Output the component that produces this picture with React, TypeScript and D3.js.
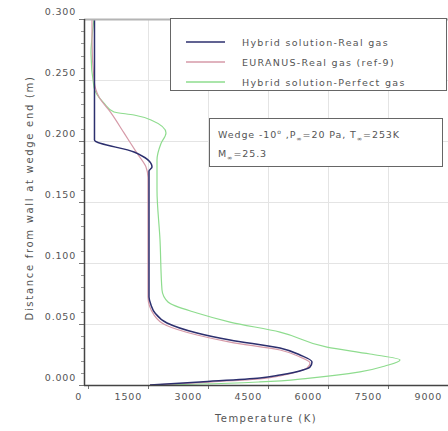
import React, { useEffect, useRef } from 'react'
import * as d3 from 'd3'

// temperature (K) vs distance from wall (m)
const hybridRealT = [162, 162, 1150, 1600, 1525, 1525, 1575, 1675, 1975, 2725, 3550, 4800, 5300, 5600, 5550, 5375, 4800, 4300, 2800, 1550]
const hybridRealY = [0.300, 0.2008, 0.191, 0.1787, 0.1754, 0.0721, 0.0656, 0.059, 0.0508, 0.0426, 0.0369, 0.0303, 0.0246, 0.0189, 0.0148, 0.0123, 0.0082, 0.0057, 0.0025, 0]

const euranusT = [100, 100, 150, 275, 575, 900, 1225, 1450, 1500, 1500, 1650, 1950, 2725, 3550, 4800, 5300, 5550, 5475, 5300, 4800, 4300, 2800, 1550]
const euranusY = [0.300, 0.283, 0.25, 0.236, 0.223, 0.2066, 0.19, 0.1787, 0.17, 0.0721, 0.0574, 0.049, 0.041, 0.0352, 0.0287, 0.023, 0.018, 0.0139, 0.0115, 0.0074, 0.0049, 0.002, 0]

const perfectT = [150, 100, 75, 150, 400, 650, 1150, 1575, 1950, 1825, 1725, 1725, 1800, 1850, 2000, 2725, 3550, 4800, 5975, 7050, 7800, 7425, 6800, 5550, 4300, 2800, 1675]
const perfectY = [0.300, 0.285, 0.272, 0.244, 0.231, 0.2238, 0.2213, 0.2172, 0.2066, 0.198, 0.1844, 0.16, 0.119, 0.0779, 0.068, 0.059, 0.0516, 0.0434, 0.0311, 0.0254, 0.0205, 0.0156, 0.0107, 0.0057, 0.0025, 0.0008, 0]

const xTicks = [0, 1500, 3000, 4500, 6000, 7500, 9000]
const yTicks = [0, 0.05, 0.1, 0.15, 0.2, 0.25, 0.3]
const seriesNames = ['Hybrid solution-Real gas', 'EURANUS-Real gas (ref-9)', 'Hybrid solution-Perfect gas']
const seriesColors = ['#2c2f6e', '#d69aa8', '#8edc8e']

const font = '"DejaVu Sans", sans-serif'
const textColor = '#555'

function App() {
  const ref = useRef<SVGSVGElement>(null)

  useEffect(() => {
    const svg = d3.select(ref.current)
    svg.selectAll('*').remove()

    const x = d3.scaleLinear().domain([-100, 9000]).range([84, 448])
    const y = d3.scaleLinear().domain([0, 0.3]).range([385, 19])
    const [x0, x1] = x.range()
    const [yb, yt] = y.range()

    svg.append('rect').attr('width', 448).attr('height', 431).attr('fill', '#fff')

    svg.append('clipPath').attr('id', 'plot')
      .append('rect').attr('x', x0).attr('y', yt).attr('width', x1 - x0).attr('height', yb - yt)

    // grid
    const grid = svg.append('g').attr('stroke', '#e4e4e4').attr('stroke-width', 1)
    grid.selectAll('.gx').data(xTicks.filter(d => d > 0)).enter().append('line')
      .attr('x1', d => Math.round(x(d)) + 0.5).attr('x2', d => Math.round(x(d)) + 0.5)
      .attr('y1', yt).attr('y2', yb)
    grid.selectAll('.gy').data(yTicks.filter(d => d > 0 && d < 0.3)).enter().append('line')
      .attr('y1', d => Math.round(y(d)) + 0.5).attr('y2', d => Math.round(y(d)) + 0.5)
      .attr('x1', x0).attr('x2', x1)

    // minor ticks
    const minorY = d3.range(0, 0.3001, 0.01)
    svg.append('g').attr('stroke', '#999').selectAll('line').data(minorY).enter().append('line')
      .attr('x1', x0 - 3).attr('x2', x0)
      .attr('y1', d => Math.round(y(d)) + 0.5).attr('y2', d => Math.round(y(d)) + 0.5)
    svg.append('g').attr('stroke', '#777').selectAll('line').data(yTicks).enter().append('line')
      .attr('x1', x0 - 5).attr('x2', x0)
      .attr('y1', d => Math.round(y(d)) + 0.5).attr('y2', d => Math.round(y(d)) + 0.5)
    svg.append('g').attr('stroke', '#777').selectAll('line').data(xTicks).enter().append('line')
      .attr('x1', d => Math.round(x(d)) + 0.5).attr('x2', d => Math.round(x(d)) + 0.5)
      .attr('y1', yb).attr('y2', yb + 4)

    // curves: each profile is single-valued in distance, so interpolate along y
    const line = d3.line<[number, number]>()
      .x(d => x(d[0])).y(d => y(d[1]))
      .curve(d3.curveMonotoneY)
    const series = [
      d3.zip(perfectT, perfectY).reverse(),
      d3.zip(euranusT, euranusY).reverse(),
      d3.zip(hybridRealT, hybridRealY).reverse(),
    ]
    const colors = [seriesColors[2], seriesColors[1], seriesColors[0]]
    const widths = [1.2, 1.2, 1.5]
    const curves = svg.append('g').attr('clip-path', 'url(#plot)')
    series.forEach((s, i) => {
      curves.append('path')
        .attr('d', line(s as [number, number][]))
        .attr('fill', 'none')
        .attr('stroke', colors[i])
        .attr('stroke-width', widths[i])
    })

    // frame
    svg.append('line').attr('x1', x0).attr('x2', x1).attr('y1', yt + 0.5).attr('y2', yt + 0.5)
      .attr('stroke', '#b4b4b4').attr('stroke-width', 2)
    svg.append('line').attr('x1', x0 + 0.5).attr('x2', x0 + 0.5).attr('y1', yt).attr('y2', yb + 0.5)
      .attr('stroke', '#444').attr('stroke-width', 1.5)
    svg.append('line').attr('x1', x0).attr('x2', x1).attr('y1', yb + 0.5).attr('y2', yb + 0.5)
      .attr('stroke', '#444').attr('stroke-width', 1.5)

    // tick labels
    svg.append('g').selectAll('text').data(yTicks).enter().append('text')
      .attr('x', 76).attr('y', d => y(d) - 4)
      .attr('text-anchor', 'end')
      .attr('font-family', font).attr('font-size', 9.5).attr('letter-spacing', 0.8)
      .attr('fill', textColor)
      .text(d => d3.format('.3f')(d))
    svg.append('g').selectAll('text').data(xTicks).enter().append('text')
      .attr('x', d => x(d) - 6).attr('y', 400)
      .attr('text-anchor', 'end')
      .attr('font-family', font).attr('font-size', 9.5).attr('letter-spacing', 0.8)
      .attr('fill', textColor)
      .text(d => String(d))

    // axis titles
    svg.append('text')
      .attr('x', 266).attr('y', 422)
      .attr('text-anchor', 'middle')
      .attr('font-family', font).attr('font-size', 10).attr('letter-spacing', 1.4)
      .attr('fill', textColor)
      .text('Temperature (K)')
    svg.append('text')
      .attr('transform', 'translate(33,198) rotate(-90)')
      .attr('text-anchor', 'middle')
      .attr('font-family', font).attr('font-size', 10).attr('letter-spacing', 1.7)
      .attr('fill', textColor)
      .text('Distance from wall at wedge end (m)')

    // legend
    const legend = svg.append('g')
    legend.append('rect').attr('x', 170.5).attr('y', 18.5).attr('width', 276).attr('height', 72)
      .attr('fill', '#fff').attr('stroke', '#666').attr('stroke-width', 1)
    seriesNames.forEach((name, i) => {
      const ly = 42 + i * 20
      legend.append('line').attr('x1', 186).attr('x2', 225).attr('y1', ly).attr('y2', ly)
        .attr('stroke', seriesColors[i]).attr('stroke-width', 1.6)
      legend.append('text').attr('x', 242).attr('y', ly + 3.5)
        .attr('font-family', font).attr('font-size', 9.5).attr('letter-spacing', 1.3)
        .attr('fill', textColor)
        .text(name)
    })

    // condition box
    const note = svg.append('g')
    note.append('rect').attr('x', 209.5).attr('y', 118.5).attr('width', 233).attr('height', 48)
      .attr('fill', '#fff').attr('stroke', '#666').attr('stroke-width', 1)
    const t1 = note.append('text').attr('x', 218).attr('y', 138)
      .attr('font-family', font).attr('font-size', 9.5).attr('letter-spacing', 0.9)
      .attr('fill', textColor)
    t1.append('tspan').text('Wedge -10')
    t1.append('tspan').attr('dy', -4).attr('font-size', 6).text('o')
    t1.append('tspan').attr('dy', 4).text(' ,P')
    t1.append('tspan').attr('dy', 3).attr('font-size', 6.5).text('\u221E')
    t1.append('tspan').attr('dy', -3).text('=20 Pa, T')
    t1.append('tspan').attr('dy', 3).attr('font-size', 6.5).text('\u221E')
    t1.append('tspan').attr('dy', -3).text('=253K')
    const t2 = note.append('text').attr('x', 218).attr('y', 157)
      .attr('font-family', font).attr('font-size', 9.5).attr('letter-spacing', 0.9)
      .attr('fill', textColor)
    t2.append('tspan').text('M')
    t2.append('tspan').attr('dy', 3).attr('font-size', 6.5).text('\u221E')
    t2.append('tspan').attr('dy', -3).text('=25.3')
  }, [])

  return (
    <svg ref={ref} width={448} height={431}
      style={{ position: 'absolute', left: 0, top: 0, display: 'block' }} />
  )
}

export default App
